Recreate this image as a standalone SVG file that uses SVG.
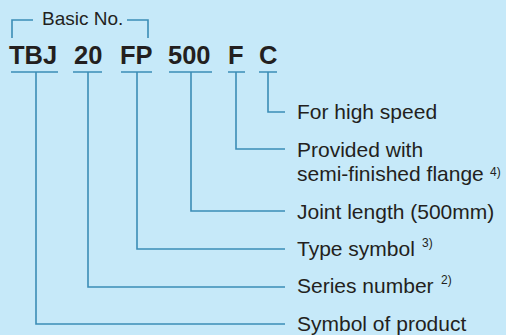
<svg xmlns="http://www.w3.org/2000/svg" width="506" height="335" viewBox="0 0 506 335">
<style>
.bg{fill:#c6e9f9}
.ln{fill:none;stroke:#3b8db6;stroke-width:1.6}
.code{font-family:"Liberation Sans",Arial,sans-serif;font-weight:bold;font-size:25.5px;fill:#231f20}
.lbl{font-family:"Liberation Sans",Arial,sans-serif;font-size:21px;fill:#231f20}
.sup{font-family:"Liberation Sans",Arial,sans-serif;font-size:12px;fill:#231f20}
</style>
<rect class="bg" x="0" y="0" width="506" height="335"/>
<g id="basic">
<path class="ln" d="M12,38 V20 H33 M127,20 H148 V38"/>
<text class="lbl" x="42" y="25" style="font-size:19px">Basic No.</text>
</g>
<g id="code">
<text class="code" x="9" y="64">TBJ</text>
<text class="code" x="74" y="64">20</text>
<text class="code" x="120" y="64">FP</text>
<text class="code" x="168" y="64">500</text>
<text class="code" x="228" y="64">F</text>
<text class="code" x="259" y="64">C</text>
</g>
<g id="connectors">
<path class="ln" d="M11,72 H58 M73,72 H102 M121,72 H152 M169,72 H212 M228,72 H245 M259,72 H277"/>
<path class="ln" d="M268,72 V112 H285"/>
<path class="ln" d="M236,72 V149 H285"/>
<path class="ln" d="M191,72 V211 H285"/>
<path class="ln" d="M137,72 V249 H285"/>
<path class="ln" d="M88,72 V287 H285"/>
<path class="ln" d="M36,72 V324 H285"/>
</g>
<g id="labels">
<text class="lbl" x="297" y="119">For high speed</text>
<text class="lbl" x="297" y="157">Provided with</text>
<text class="lbl" x="297" y="181">semi-finished flange</text>
<text class="sup" x="490" y="176">4)</text>
<text class="lbl" x="297" y="219">Joint length (500mm)</text>
<text class="lbl" x="297" y="256">Type symbol</text>
<text class="sup" x="422" y="247">3)</text>
<text class="lbl" x="297" y="293">Series number</text>
<text class="sup" x="441" y="284">2)</text>
<text class="lbl" x="297" y="331">Symbol of product</text>
</g>
</svg>
